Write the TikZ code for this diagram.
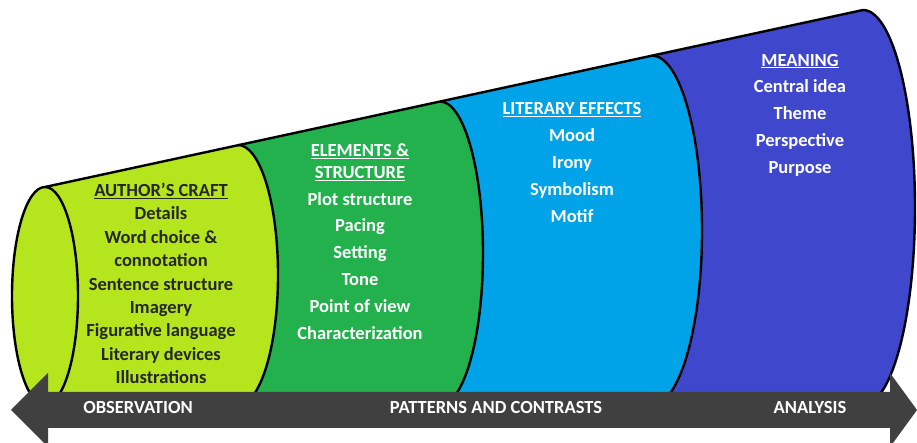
\documentclass[tikz,border=0pt]{standalone}
\usepackage{fontspec}
\setmainfont{Carlito}
\usepackage{xcolor}
\usepackage{tikz}
\usetikzlibrary{positioning}
\definecolor{craftgreen}{RGB}{181,230,29}
\definecolor{elemgreen}{RGB}{34,177,76}
\definecolor{effectblue}{RGB}{0,162,232}
\definecolor{meaningblue}{RGB}{63,72,204}
\definecolor{arrowgray}{RGB}{64,64,64}

\begin{document}
\begin{tikzpicture}[
    x=1pt, y=1pt,
    outline/.style={draw=black, line width=2.4pt, line join=round},
    craftpart/.style={fill=craftgreen},
    elempart/.style={fill=elemgreen},
    effectpart/.style={fill=effectblue},
    meaningpart/.style={fill=meaningblue},
    darklabel/.style={font=\fontsize{18.5}{23.4}\selectfont\bfseries, align=center, text=black!85},
    lightlabel/.style={font=\fontsize{18.5}{26.8}\selectfont\bfseries, align=center, text=white},
    arrowlabel/.style={font=\fontsize{18.5}{18.5}\selectfont\bfseries, text=white}
]
    \path[use as bounding box, clip] (0,0) rectangle (917,443);
    \fill[white] (0,0) rectangle (917,443);

    % Cross sections of the cone (top and bottom points)
    \coordinate (top0) at (45,256);
    \coordinate (top1) at (238,298);
    \coordinate (top2) at (440,341.5);
    \coordinate (top3) at (652,387.4);
    \coordinate (top4) at (863,433);
    \coordinate (bot0) at (45,38);
    \coordinate (bot1) at (238,38);
    \coordinate (bot2) at (440,38);
    \coordinate (bot3) at (652,38);

    % Segments
    \fill[craftpart] (top0) -- (top1) arc[start angle=90, end angle=-90, x radius=40, y radius=130]
        -- (bot0) arc[start angle=-90, end angle=90, x radius=33, y radius=109] -- cycle;
    \fill[elempart] (top1) -- (top2) arc[start angle=90, end angle=-90, x radius=43, y radius=151.75]
        -- (bot1) arc[start angle=-90, end angle=90, x radius=40, y radius=130] -- cycle;
    \fill[effectpart] (top2) -- (top3) arc[start angle=90, end angle=-90, x radius=50, y radius=174.7]
        -- (bot2) arc[start angle=-90, end angle=90, x radius=43, y radius=151.75] -- cycle;
    \fill[meaningpart] (top3) -- (top4) arc[start angle=90, end angle=-90, x radius=52, y radius=197.5]
        -- (bot3) arc[start angle=-90, end angle=90, x radius=50, y radius=174.7] -- cycle;

    % Outlines
    \draw[outline] (top0) -- (top4);
    \draw[outline] (top1) arc[start angle=90, end angle=-90, x radius=40, y radius=130];
    \draw[outline] (top2) arc[start angle=90, end angle=-90, x radius=43, y radius=151.75];
    \draw[outline] (top3) arc[start angle=90, end angle=-90, x radius=50, y radius=174.7];
    \draw[outline] (top4) arc[start angle=90, end angle=-90, x radius=52, y radius=197.5];
    \draw[outline, craftpart] (45,147) ellipse[x radius=33, y radius=109];

    % Double arrow
    \fill[arrowgray] (11,33) -- (48,70) -- (48,51) -- (890,51) -- (890,70) -- (917,33)
        -- (890,-4) -- (890,15) -- (48,15) -- (48,-4) -- cycle;
    \node[arrowlabel] (observe) at (138,35) {OBSERVATION};
    \node[arrowlabel] (patterns) at (496,35) {PATTERNS AND CONTRASTS};
    \node[arrowlabel] (analysis) at (810,35) {ANALYSIS};

    % Texts
    \node[darklabel] (craft) at (161,159.5) {\underline{AUTHOR'S CRAFT}\\ Details\\ Word choice \&\\ connotation\\
        Sentence structure\\ Imagery\\ Figurative language\\ Literary devices\\ Illustrations};
    \node[lightlabel] (elements) at (360,201.5) {\underline{ELEMENTS \&}\\[-5pt] \underline{STRUCTURE}\\ Plot structure\\
        Pacing\\ Setting\\ Tone\\ Point of view\\ Characterization};
    \node[lightlabel] (effects) at (572,280.5) {\underline{LITERARY EFFECTS}\\ Mood\\ Irony\\ Symbolism\\ Motif};
    \node[lightlabel] (meaning) at (800,328) {\underline{MEANING}\\ Central idea\\ Theme\\ Perspective\\ Purpose};
\end{tikzpicture}
\end{document}
